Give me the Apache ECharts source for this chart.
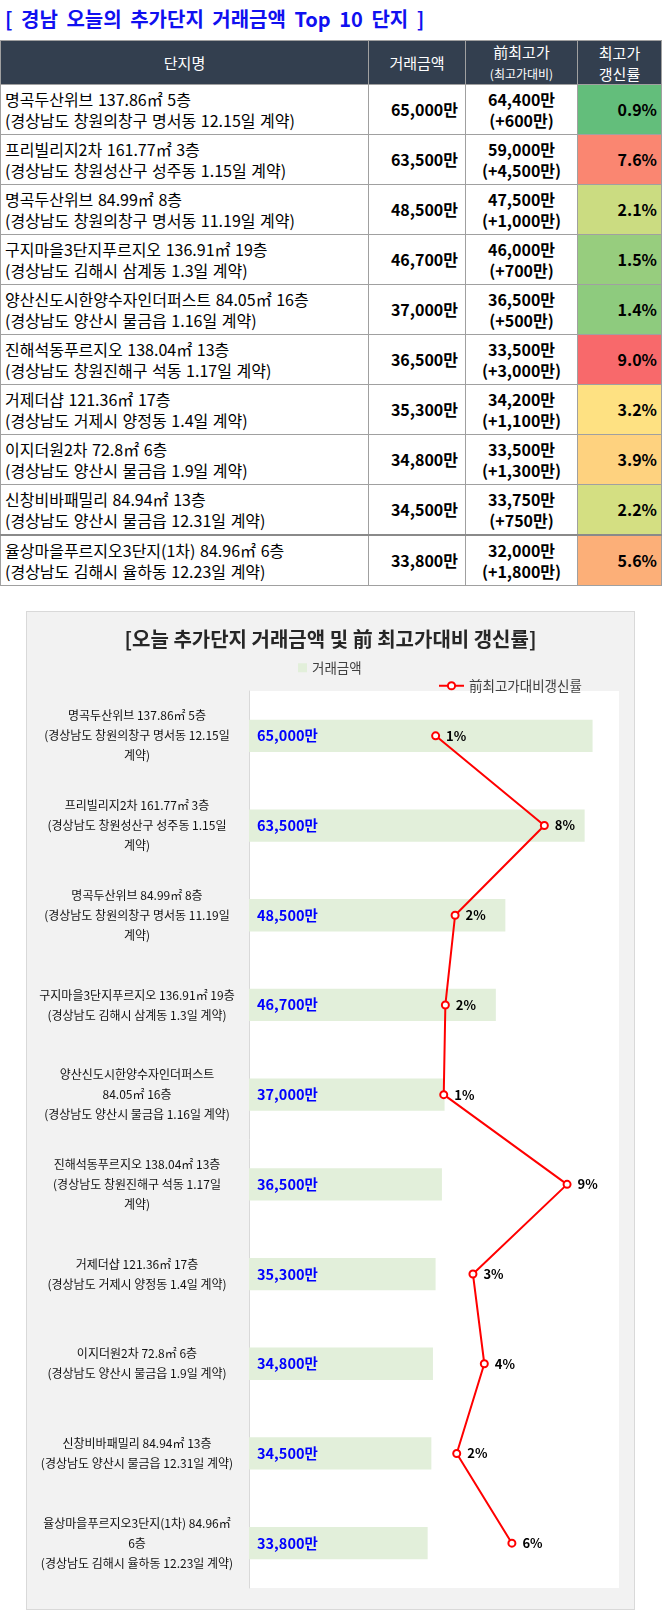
<!DOCTYPE html>
<html>
<head>
<meta charset="utf-8">
<script src="https://cdn.jsdelivr.net/npm/echarts@6/dist/echarts.min.js"></script>
<style>
  body { margin: 0; background: #fff; font-family: "Noto Sans CJK KR", "Noto Sans", sans-serif; }
  #wrap { position: relative; width: 662px; height: 1624px; }
  #ttl { position: absolute; left: 5px; top: 5px; font-size: 20px; line-height: 28px; font-weight: bold; color: #1010f0; white-space: nowrap; word-spacing: 4px; }
  #tbl { position: absolute; left: 0; top: 40px; width: 661px; border-collapse: collapse; table-layout: fixed; }
  #tbl td, #tbl th { border: 1px solid #a0a0a0; font-size: 16px; line-height: 21px; color: #000; padding: 0; }
  #tbl th { background: #333f4f; color: #fff; font-weight: normal; height: 41px; font-size: 15px; }
  #tbl th small { font-size: 12px; }
  #tbl td { height: 49px; }
  #tbl td.nm { padding-left: 4px; white-space: nowrap; overflow: hidden; word-spacing: 1px; }
  #tbl td.am { text-align: right; padding-right: 7px; font-weight: 600; }
  #tbl td.pv { text-align: center; font-weight: 600; }
  #tbl td.rt { text-align: right; padding-right: 4px; font-weight: 600; }
  #tbl tr.last td { border-top: 2px solid #8a8a8a; }
  #main { position: absolute; left: 26px; top: 611px; width: 609px; height: 999px; background: #f2f2f2; border: 1px solid #d9d9d9; box-sizing: border-box; }
</style>
</head>
<body>
<div id="wrap">
  <div id="ttl">[ 경남 오늘의 추가단지 거래금액 Top 10 단지 ]</div>
  <table id="tbl"></table>
  <div id="main"></div>
</div>
<script>
var names = ['명곡두산위브 137.86㎡ 5층', '프리빌리지2차 161.77㎡ 3층', '명곡두산위브 84.99㎡ 8층',
    '구지마을3단지푸르지오 136.91㎡ 19층', '양산신도시한양수자인더퍼스트 84.05㎡ 16층', '진해석동푸르지오 138.04㎡ 13층',
    '거제더샵 121.36㎡ 17층', '이지더원2차 72.8㎡ 6층', '신창비바패밀리 84.94㎡ 13층', '율상마을푸르지오3단지(1차) 84.96㎡ 6층'];
var addrs = ['경상남도 창원의창구 명서동 12.15일 계약', '경상남도 창원성산구 성주동 1.15일 계약', '경상남도 창원의창구 명서동 11.19일 계약',
    '경상남도 김해시 삼계동 1.3일 계약', '경상남도 양산시 물금읍 1.16일 계약', '경상남도 창원진해구 석동 1.17일 계약',
    '경상남도 거제시 양정동 1.4일 계약', '경상남도 양산시 물금읍 1.9일 계약', '경상남도 양산시 물금읍 12.31일 계약', '경상남도 김해시 율하동 12.23일 계약'];
var amounts = [65000, 63500, 48500, 46700, 37000, 36500, 35300, 34800, 34500, 33800];
var prevHigh = [64400, 59000, 47500, 46000, 36500, 33500, 34200, 33500, 33750, 32000];
var diffs = [600, 4500, 1000, 700, 500, 3000, 1100, 1300, 750, 1800];
var rates = [0.9, 7.6, 2.1, 1.5, 1.4, 9.0, 3.2, 3.9, 2.2, 5.6];
var chartLabels = [
    '명곡두산위브 137.86㎡ 5층\n(경상남도 창원의창구 명서동 12.15일\n계약)',
    '프리빌리지2차 161.77㎡ 3층\n(경상남도 창원성산구 성주동 1.15일\n계약)',
    '명곡두산위브 84.99㎡ 8층\n(경상남도 창원의창구 명서동 11.19일\n계약)',
    '구지마을3단지푸르지오 136.91㎡ 19층\n(경상남도 김해시 삼계동 1.3일 계약)',
    '양산신도시한양수자인더퍼스트\n84.05㎡ 16층\n(경상남도 양산시 물금읍 1.16일 계약)',
    '진해석동푸르지오 138.04㎡ 13층\n(경상남도 창원진해구 석동 1.17일\n계약)',
    '거제더샵 121.36㎡ 17층\n(경상남도 거제시 양정동 1.4일 계약)',
    '이지더원2차 72.8㎡ 6층\n(경상남도 양산시 물금읍 1.9일 계약)',
    '신창비바패밀리 84.94㎡ 13층\n(경상남도 양산시 물금읍 12.31일 계약)',
    '율상마을푸르지오3단지(1차) 84.96㎡\n6층\n(경상남도 김해시 율하동 12.23일 계약)'
];

function fmt(n) {
    return String(n).replace(/\B(?=(\d{3})+(?!\d))/g, ',');
}

// excel style 3-color scale (min green, median yellow, max red)
function scaleColor(v) {
    var s = rates.slice().sort(function (a, b) { return a - b; });
    var min = s[0], max = s[s.length - 1];
    var mid = (s[4] + s[5]) / 2;
    var g = [99, 190, 123], y = [255, 235, 132], r = [248, 105, 107];
    var a, b, t;
    if (v <= mid) { a = g; b = y; t = (v - min) / (mid - min); }
    else { a = y; b = r; t = (v - mid) / (max - mid); }
    var c = a.map(function (x, i) { return Math.round(x + (b[i] - x) * t); });
    return 'rgb(' + c.join(',') + ')';
}

var html = '<colgroup><col style="width:368px"><col style="width:97px"><col style="width:112px"><col style="width:84px"></colgroup>' +
    '<tr><th>단지명</th><th>거래금액</th><th>前최고가<br><small>(최고가대비)</small></th><th>최고가<br>갱신률</th></tr>';
for (var i = 0; i < names.length; i++) {
    html += '<tr' + (i === names.length - 1 ? ' class="last"' : '') + '>' +
        '<td class="nm">' + names[i] + '<br>(' + addrs[i] + ')</td>' +
        '<td class="am">' + fmt(amounts[i]) + '만</td>' +
        '<td class="pv">' + fmt(prevHigh[i]) + '만<br>(+' + fmt(diffs[i]) + '만)</td>' +
        '<td class="rt" style="background:' + scaleColor(rates[i]) + '">' + rates[i].toFixed(1) + '%</td></tr>';
}
document.getElementById('tbl').innerHTML = html;

var myChart = echarts.init(document.getElementById('main'));
var option = {
    textStyle: { fontFamily: '"Noto Sans CJK KR", sans-serif' },
    title: {
        text: '[오늘 추가단지 거래금액 및 前 최고가대비 갱신률]',
        left: 'center',
        top: 12,
        textStyle: { fontSize: 20, fontWeight: 'bold', color: '#262626' }
    },
    legend: [
        {
            data: ['거래금액'],
            left: 266,
            top: 44,
            icon: 'rect',
            itemWidth: 9,
            itemHeight: 9,
            itemGap: 4,
            textStyle: { fontSize: 13.5, color: '#404040' }
        },
        {
            data: ['前최고가대비갱신률'],
            left: 406,
            top: 62,
            itemWidth: 25,
            itemHeight: 9,
            textStyle: { fontSize: 13.5, color: '#404040' }
        }
    ],
    grid: {
        left: 222,
        right: 15,
        top: 79,
        bottom: 21,
        show: true,
        backgroundColor: '#ffffff',
        borderWidth: 0
    },
    yAxis: {
        type: 'category',
        inverse: true,
        data: chartLabels,
        axisTick: { show: false },
        axisLine: { lineStyle: { color: '#d9d9d9' } },
        axisLabel: {
            align: 'center',
            margin: 112,
            fontSize: 12,
            lineHeight: 20,
            color: '#111'
        }
    },
    xAxis: [
        { type: 'value', min: 0, max: 70000, show: false },
        { type: 'value', min: -10.6, max: 12.2, show: false }
    ],
    series: [
        {
            name: '거래금액',
            type: 'bar',
            xAxisIndex: 0,
            data: amounts,
            barCategoryGap: '64%',
            itemStyle: { color: '#e2efda' },
            label: {
                show: true,
                position: 'insideLeft',
                distance: 8,
                formatter: function (p) { return fmt(p.value) + '만'; },
                color: '#0000ff',
                fontSize: 14.5,
                fontWeight: 'bold'
            }
        },
        {
            name: '前최고가대비갱신률',
            type: 'line',
            xAxisIndex: 1,
            data: rates,
            symbol: 'emptyCircle',
            symbolSize: 7,
            itemStyle: { color: '#ff0000', borderWidth: 1.5 },
            lineStyle: { color: '#ff0000', width: 2 },
            label: {
                show: true,
                position: 'right',
                distance: 6,
                formatter: function (p) { return Math.round(p.value) + '%'; },
                color: '#000',
                fontSize: 13,
                fontWeight: 'bold'
            }
        }
    ]
};
myChart.setOption(option);
</script>
</body>
</html>
